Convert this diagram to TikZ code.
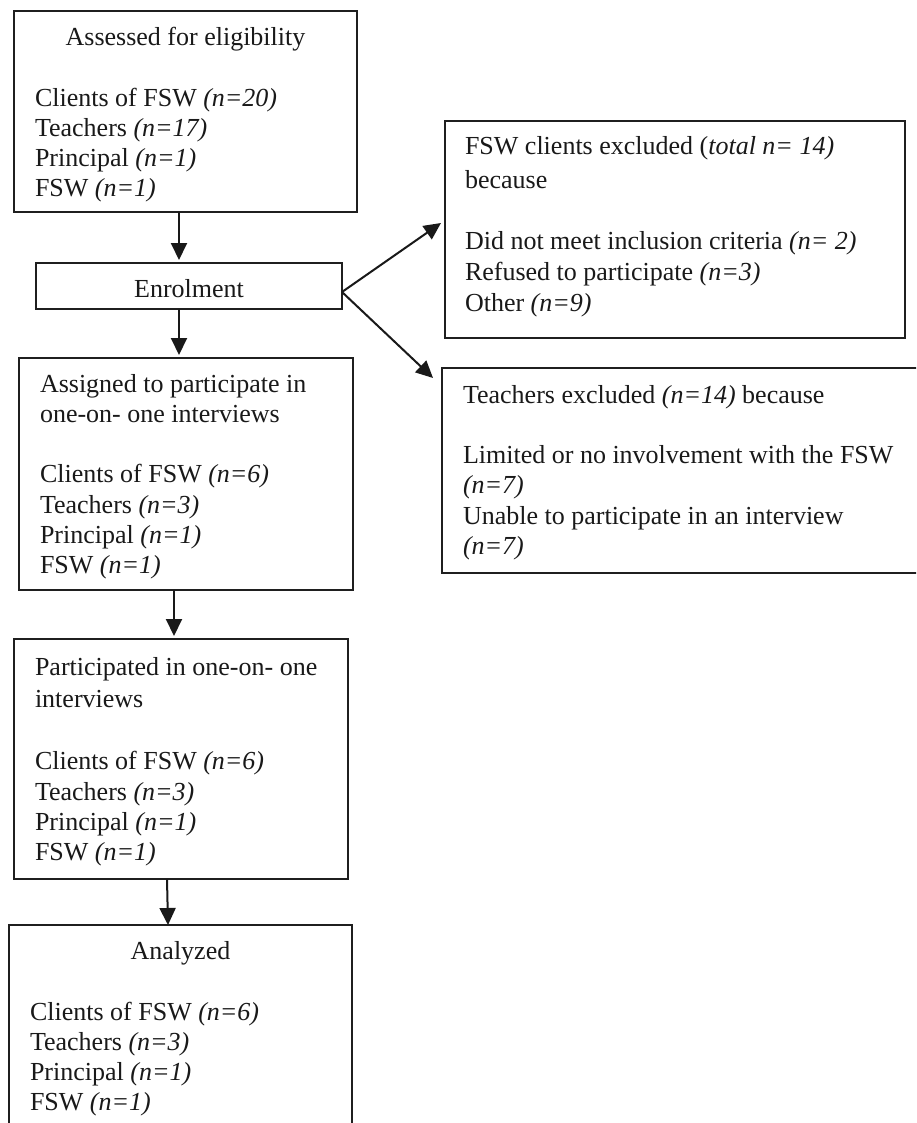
\documentclass[tikz,border=0pt]{standalone}
\usepackage{fontspec}
\setmainfont{Liberation Serif}
\usetikzlibrary{arrows.meta}
\begin{document}
\begin{tikzpicture}[x=1pt,y=-1pt,
  box/.style={draw=black!88, line width=1.9pt, anchor=north west, inner sep=0pt, outer sep=0pt},
  txt/.style={inner sep=0pt, outer sep=0pt, text=black!90, font=\fontsize{26}{30}\selectfont},
  arr/.style={draw=black!90, line width=2pt, -{Triangle[length=17pt,width=16pt]}}
]
\clip (0,0) rectangle (916,1123);
\fill[white] (0,0) rectangle (916,1123);
\newcommand\tline[4]{\node[txt,anchor=base west] (#1) at (#2,#3) {#4};}
\newcommand\tmid[4]{\node[txt,anchor=base] (#1) at (#2,#3) {#4};}

% boxes
\node[box, minimum width=343pt, minimum height=201pt] (box1) at (14,11) {};
\node[box, minimum width=306pt, minimum height=46pt] (enrol) at (36,263) {};
\node[box, minimum width=334pt, minimum height=232pt] (box3) at (19,358) {};
\node[box, minimum width=334pt, minimum height=240pt] (box4) at (14,639) {};
\node[box, minimum width=343pt, minimum height=230pt] (box5) at (9,925) {};
\node[box, minimum width=460pt, minimum height=217pt] (boxA) at (445,121) {};
\node[box, minimum width=500pt, minimum height=205pt] (boxB) at (442,368) {};

% box 1 text
\tmid{h1}{185.5}{46}{Assessed for eligibility}
\tline{a1}{35}{107}{Clients of FSW \textit{(n=20)}}
\tline{a2}{35}{137}{Teachers \textit{(n=17)}}
\tline{a3}{35}{167}{Principal \textit{(n=1)}}
\tline{a4}{35}{197}{FSW \textit{(n=1)}}

% enrolment
\tmid{h2}{189}{297}{Enrolment}

% box 3 text
\tline{b0}{40}{392.5}{Assigned to participate in}
\tline{b1}{40}{422.5}{one-on- one interviews}
\tline{b2}{40}{482.5}{Clients of FSW \textit{(n=6)}}
\tline{b3}{40}{513}{Teachers \textit{(n=3)}}
\tline{b4}{40}{543}{Principal \textit{(n=1)}}
\tline{b5}{40}{573}{FSW \textit{(n=1)}}

% box 4 text
\tline{c0}{35}{675}{Participated in one-on- one}
\tline{c1}{35}{707}{interviews}
\tline{c2}{35}{769}{Clients of FSW \textit{(n=6)}}
\tline{c3}{35}{800}{Teachers \textit{(n=3)}}
\tline{c4}{35}{830}{Principal \textit{(n=1)}}
\tline{c5}{35}{860}{FSW \textit{(n=1)}}

% box 5 text
\tmid{h5}{180.5}{959}{Analyzed}
\tline{d2}{30}{1020}{Clients of FSW \textit{(n=6)}}
\tline{d3}{30}{1050}{Teachers \textit{(n=3)}}
\tline{d4}{30}{1080}{Principal \textit{(n=1)}}
\tline{d5}{30}{1110}{FSW \textit{(n=1)}}

% box A text
\tline{e0}{465}{155}{FSW clients excluded (\textit{total n= 14)}}
\tline{e1}{465}{189}{because}
\tline{e2}{465}{250}{Did not meet inclusion criteria \textit{(n= 2)}}
\tline{e3}{465}{280}{Refused to participate \textit{(n=3)}}
\tline{e4}{465}{311}{Other \textit{(n=9)}}

% box B text
\tline{f0}{463}{403}{Teachers excluded \textit{(n=14)} because}
\tline{f1}{463}{463}{Limited or no involvement with the FSW}
\tline{f2}{463}{493}{\textit{(n=7)}}
\tline{f3}{463}{524}{Unable to participate in an interview}
\tline{f4}{463}{554}{\textit{(n=7)}}

% connectors
\coordinate (split) at ([yshift=-6pt]enrol.east);
\draw[arr] ([xshift=165pt]box1.south west) -- ([xshift=143pt,yshift=3pt]enrol.north west);
\draw[arr] ([xshift=143pt]enrol.south west) -- ([xshift=160pt,yshift=3pt]box3.north west);
\draw[arr] ([xshift=155pt]box3.south west) -- ([xshift=160pt,yshift=3pt]box4.north west);
\draw[arr] ([xshift=153pt]box4.south west) -- ([xshift=159pt]box5.north west);
\draw[arr] (split) -- ([xshift=-4pt,yshift=6.5pt]boxA.west);
\draw[arr] (split) -- ([xshift=-9pt,yshift=-10pt]boxB.north west);
\end{tikzpicture}
\end{document}
